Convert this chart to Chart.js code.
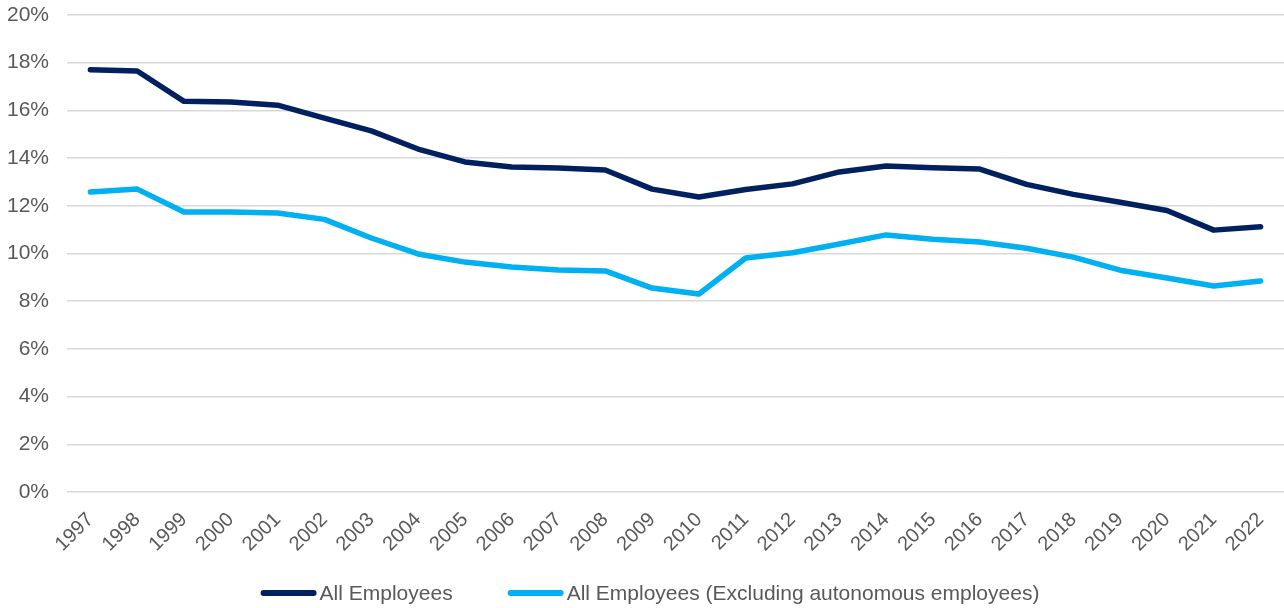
<!DOCTYPE html>
<html>
<head>
<meta charset="utf-8">
<script src="https://cdn.jsdelivr.net/npm/chart.js@4"></script>
<style>
  html, body { margin: 0; padding: 0; background: #fff; }
  #wrap { width: 1284px; height: 608px; }
</style>
</head>
<body>
<div id="wrap"><canvas id="chart"></canvas></div>
<script>
// Share of employees, 1997-2022
const years = ['1997', '1998', '1999', '2000', '2001', '2002', '2003', '2004', '2005', '2006', '2007', '2008', '2009',
  '2010', '2011', '2012', '2013', '2014', '2015', '2016', '2017', '2018', '2019', '2020', '2021', '2022'];

const allEmployees = [17.7, 17.65, 16.38, 16.35, 16.22, 15.68, 15.14, 14.38, 13.84, 13.63, 13.58, 13.5, 12.7,
  12.37, 12.68, 12.92, 13.42, 13.67, 13.6, 13.54, 12.9, 12.48, 12.15, 11.8, 10.98, 11.12];

const exclAutonomous = [12.58, 12.7, 11.74, 11.74, 11.7, 11.43, 10.65, 9.98, 9.64, 9.43, 9.31, 9.27, 8.55,
  8.3, 9.81, 10.03, 10.4, 10.78, 10.6, 10.48, 10.22, 9.85, 9.3, 8.97, 8.64, 8.85];

const seriesNames = ['All Employees', 'All Employees (Excluding autonomous employees)'];

const navy = '#002060';
const cyan = '#00B0F0';
const grey = '#595959';
const fontFamily = '"Liberation Sans", Arial, sans-serif';

Chart.defaults.font.family = fontFamily;
Chart.defaults.color = grey;

// legend drawn by hand: short thick line, text right after it
const bottomLegend = {
  id: 'bottomLegend',
  afterDraw(chart) {
    const ctx = chart.ctx;
    const lineLen = 56, textGap = 3, itemGap = 55;
    ctx.save();
    ctx.font = '21px ' + fontFamily;
    ctx.textBaseline = 'middle';
    const items = chart.data.datasets.map(ds => ({ ds, w: ctx.measureText(ds.label).width }));
    const total = items.reduce((s, it) => s + lineLen + textGap + it.w, 0) + itemGap * (items.length - 1);
    let x = chart.width / 2 + 8 - total / 2;
    const y = 593;
    items.forEach(it => {
      ctx.strokeStyle = it.ds.borderColor;
      ctx.lineWidth = 6;
      ctx.lineCap = 'round';
      ctx.beginPath();
      ctx.moveTo(x + 3, y);
      ctx.lineTo(x + lineLen - 3, y);
      ctx.stroke();
      ctx.fillStyle = grey;
      ctx.fillText(it.ds.label, x + lineLen + textGap, y + 1);
      x += lineLen + textGap + it.w + itemGap;
    });
    ctx.restore();
  }
};

new Chart(document.getElementById('chart').getContext('2d'), {
  type: 'line',
  data: {
    labels: years,
    datasets: [{
      label: seriesNames[0],
      data: allEmployees,
      borderColor: navy,
      backgroundColor: navy,
      borderWidth: 5.5,
      pointRadius: 0,
      tension: 0,
      borderCapStyle: 'round',
      borderJoinStyle: 'round'
    }, {
      label: seriesNames[1],
      data: exclAutonomous,
      borderColor: cyan,
      backgroundColor: cyan,
      borderWidth: 5.5,
      pointRadius: 0,
      tension: 0,
      borderCapStyle: 'round',
      borderJoinStyle: 'round'
    }]
  },
  options: {
    responsive: true,
    maintainAspectRatio: false,
    animation: false,
    layout: { padding: { top: 15, right: 0, left: 0, bottom: 40 } },
    plugins: {
      tooltip: { enabled: false },
      legend: { display: false }
    },
    scales: {
      x: {
        offset: true,
        grid: { display: false },
        border: { display: false },
        ticks: { font: { size: 20 }, minRotation: 45, maxRotation: 45, padding: 8 },
        afterFit(scale) {
          scale.paddingLeft = 0;
          scale.paddingRight = 0;
          scale.height = 76;
        }
      },
      y: {
        min: 0,
        max: 20,
        grid: { color: '#d9d9d9', lineWidth: 1.5, drawTicks: false },
        border: { display: false },
        ticks: {
          stepSize: 2,
          font: { size: 21 },
          padding: 18,
          callback: v => v + '%'
        },
        afterFit(scale) {
          scale.width = 67;
          scale.paddingTop = 0;
          scale.paddingBottom = 0;
        }
      }
    }
  },
  plugins: [bottomLegend]
});
</script>
</body>
</html>
